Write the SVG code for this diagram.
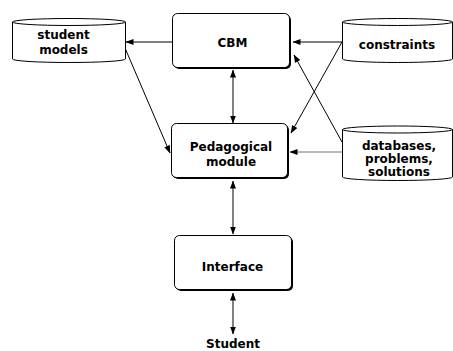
<svg xmlns="http://www.w3.org/2000/svg" width="453" height="351" viewBox="0 0 453 351">
  <defs>
    <marker id="arrow" markerUnits="userSpaceOnUse" markerWidth="8" markerHeight="8" viewBox="0 0 8 8" refX="7.5" refY="4" orient="auto-start-reverse">
      <path d="M0,1 L8,4 L0,7 z" fill="#000"/>
    </marker>
  </defs>
  <style>
    .box { fill: #fff; stroke: #000; stroke-width: 1; }
    .shadow { fill: #000; }
    .store { fill: #fff; stroke: #000; stroke-width: 1; }
    .lbl { font-family: "DejaVu Sans", "Liberation Sans", sans-serif; font-weight: bold; font-size: 12px; fill: #000; text-anchor: middle; }
    .link { stroke: #000; stroke-width: 1; fill: none; }
    .grey { stroke: #777; }
  </style>
  <rect width="453" height="351" fill="#fff"/>

  <!-- connectors -->
  <g id="connectors">
    <line class="link" x1="172" y1="42" x2="126" y2="42" marker-end="url(#arrow)"/>
    <line class="link" x1="342" y1="42" x2="293" y2="42" marker-end="url(#arrow)"/>
    <line class="link" x1="233" y1="70" x2="233" y2="123" marker-start="url(#arrow)" marker-end="url(#arrow)"/>
    <line class="link" x1="125" y1="48" x2="170" y2="153" marker-end="url(#arrow)"/>
    <line class="link" x1="342" y1="142" x2="294" y2="55" marker-end="url(#arrow)"/>
    <line class="link" x1="342" y1="42" x2="291" y2="133" marker-end="url(#arrow)"/>
    <line class="link grey" x1="343" y1="152" x2="290" y2="152" marker-end="url(#arrow)"/>
    <line class="link" x1="233" y1="181" x2="233" y2="234" marker-start="url(#arrow)" marker-end="url(#arrow)"/>
    <line class="link" x1="233" y1="293" x2="233" y2="334" marker-start="url(#arrow)" marker-end="url(#arrow)"/>
  </g>

  <!-- CBM -->
  <g id="cbm">
    <rect class="shadow" x="174" y="15" width="117" height="54" rx="5"/>
    <rect class="box" x="172.5" y="13.5" width="117" height="54" rx="5"/>
    <text class="lbl" x="232.5" y="47">CBM</text>
  </g>

  <!-- Pedagogical module -->
  <g id="pedagogical">
    <rect class="shadow" x="173" y="125" width="116" height="54" rx="5"/>
    <rect class="box" x="171.5" y="123.5" width="116" height="54" rx="5"/>
    <text class="lbl" x="231" y="151">Pedagogical</text>
    <text class="lbl" x="231" y="166">module</text>
  </g>

  <!-- Interface -->
  <g id="interface">
    <rect class="shadow" x="176" y="237" width="117" height="54" rx="5"/>
    <rect class="box" x="174.5" y="235.5" width="117" height="54" rx="5"/>
    <text class="lbl" x="232.5" y="271">Interface</text>
  </g>

  <!-- student models store -->
  <g id="student-models">
    <path class="store" d="M12.5,22 A56.5,3.5 0 0 1 125.5,22 V59 A56.5,3.5 0 0 1 12.5,59 Z"/>
    <path class="link" d="M12.5,22 A56.5,3.5 0 0 0 125.5,22"/>
    <text class="lbl" x="63.5" y="39">student</text>
    <text class="lbl" x="63.5" y="54">models</text>
  </g>

  <!-- constraints store -->
  <g id="constraints">
    <path class="store" d="M342.5,22 A55,3.5 0 0 1 452.5,22 V59 A55,3.5 0 0 1 342.5,59 Z"/>
    <path class="link" d="M342.5,22 A55,3.5 0 0 0 452.5,22"/>
    <text class="lbl" x="397" y="49">constraints</text>
  </g>

  <!-- databases store -->
  <g id="databases">
    <path class="store" d="M342.5,129.5 A55,3.5 0 0 1 452.5,129.5 V177 A55,3.5 0 0 1 342.5,177 Z"/>
    <path class="link" d="M342.5,129.5 A55,3.5 0 0 0 452.5,129.5"/>
    <text class="lbl" x="399" y="150">databases,</text>
    <text class="lbl" x="399" y="163">problems,</text>
    <text class="lbl" x="399" y="176">solutions</text>
  </g>

  <!-- Student -->
  <g id="student">
    <text class="lbl" x="233" y="348">Student</text>
  </g>
</svg>
